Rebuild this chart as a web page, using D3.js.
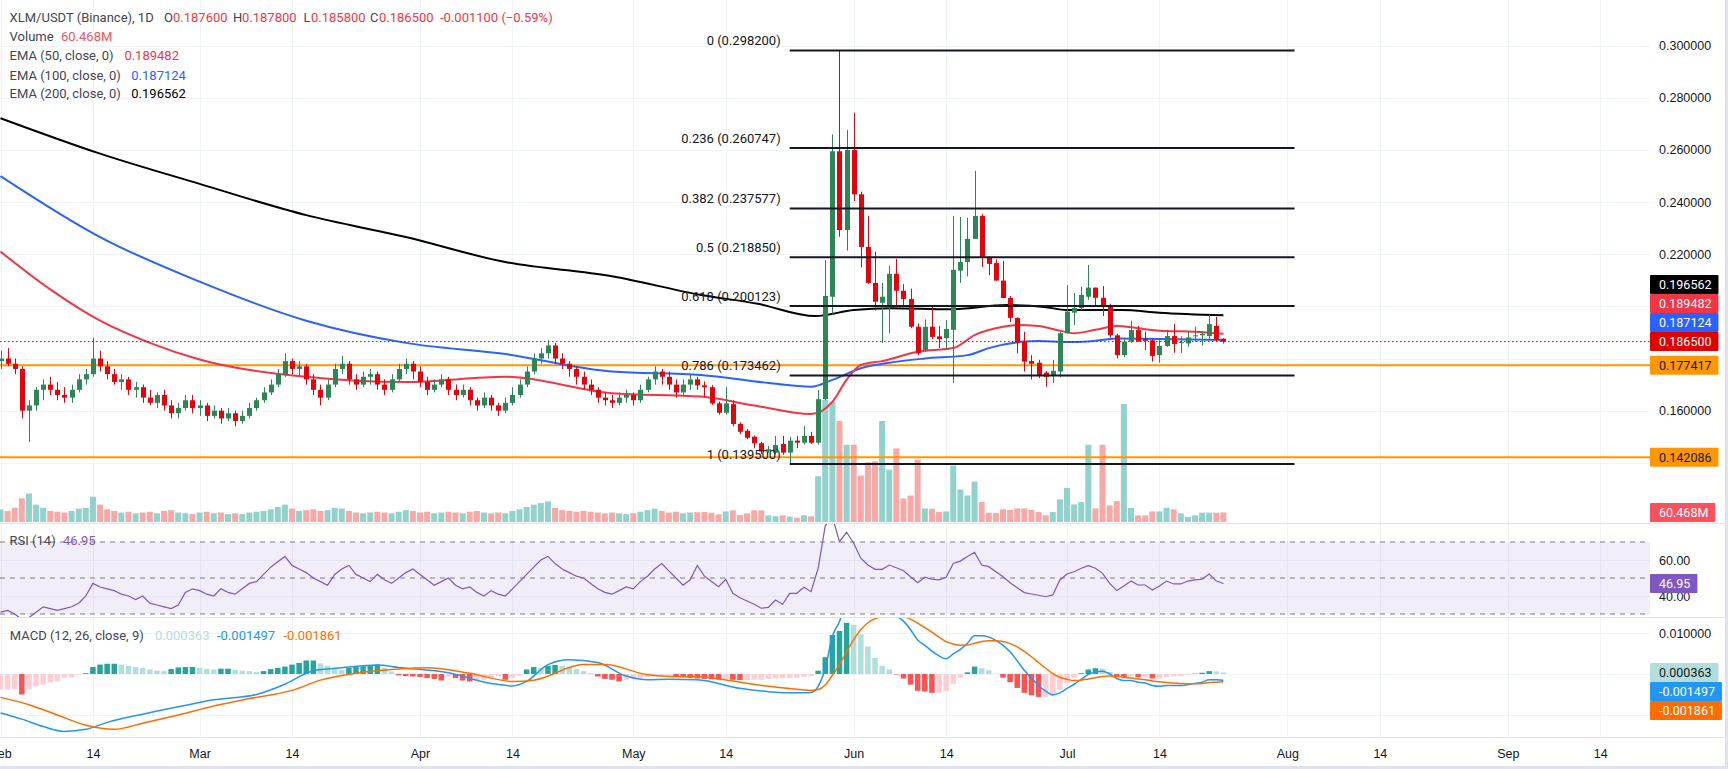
<!DOCTYPE html>
<html>
<head>
<meta charset="utf-8">
<script src="https://cdn.jsdelivr.net/npm/d3@7.9.0/dist/d3.min.js"></script>
<style>
  body { margin: 0; background: #fff; }
  svg { display: block; font-family: Roboto, "Liberation Sans", sans-serif; }
</style>
</head>
<body>
<svg id="chart" width="1728" height="769"></svg>
<script>
// daily candles from 1 Feb, [open, high, low, close]
const candles = [
  [0.1790,0.1830,0.1760,0.1800],[0.1800,0.1840,0.1770,0.1780],[0.1780,0.1800,0.1740,0.1760],[0.1760,0.1770,0.1570,0.1600],
  [0.1600,0.1640,0.1480,0.1620],[0.1620,0.1690,0.1600,0.1680],[0.1680,0.1720,0.1640,0.1700],[0.1700,0.1730,0.1660,0.1680],
  [0.1680,0.1710,0.1640,0.1660],[0.1660,0.1690,0.1630,0.1650],[0.1650,0.1700,0.1630,0.1680],[0.1680,0.1740,0.1670,0.1720],
  [0.1720,0.1760,0.1700,0.1740],[0.1740,0.1880,0.1730,0.1800],[0.1800,0.1830,0.1750,0.1770],[0.1770,0.1790,0.1720,0.1740],
  [0.1740,0.1760,0.1700,0.1710],[0.1710,0.1740,0.1680,0.1720],[0.1720,0.1730,0.1660,0.1680],[0.1680,0.1710,0.1650,0.1690],
  [0.1690,0.1700,0.1630,0.1650],[0.1650,0.1680,0.1620,0.1630],[0.1630,0.1670,0.1610,0.1660],[0.1660,0.1680,0.1600,0.1620],
  [0.1620,0.1640,0.1570,0.1590],[0.1590,0.1630,0.1570,0.1610],[0.1610,0.1660,0.1600,0.1640],[0.1640,0.1660,0.1590,0.1610],
  [0.1610,0.1640,0.1580,0.1620],[0.1620,0.1630,0.1560,0.1580],[0.1580,0.1620,0.1570,0.1600],[0.1600,0.1610,0.1550,0.1570],
  [0.1570,0.1610,0.1560,0.1590],[0.1590,0.1600,0.1540,0.1560],[0.1560,0.1600,0.1550,0.1580],[0.1580,0.1630,0.1570,0.1610],
  [0.1610,0.1650,0.1600,0.1640],[0.1640,0.1690,0.1630,0.1670],[0.1670,0.1720,0.1660,0.1700],[0.1700,0.1760,0.1690,0.1740],
  [0.1740,0.1820,0.1730,0.1790],[0.1790,0.1800,0.1740,0.1760],[0.1760,0.1790,0.1730,0.1770],[0.1770,0.1780,0.1700,0.1720],
  [0.1720,0.1740,0.1660,0.1680],[0.1680,0.1700,0.1620,0.1650],[0.1650,0.1720,0.1640,0.1700],[0.1700,0.1780,0.1690,0.1760],
  [0.1760,0.1810,0.1740,0.1780],[0.1780,0.1790,0.1700,0.1720],[0.1720,0.1740,0.1680,0.1700],[0.1700,0.1750,0.1690,0.1730],
  [0.1730,0.1760,0.1700,0.1740],[0.1740,0.1750,0.1680,0.1700],[0.1700,0.1720,0.1660,0.1680],[0.1680,0.1740,0.1670,0.1720],
  [0.1720,0.1780,0.1710,0.1760],[0.1760,0.1800,0.1740,0.1780],[0.1780,0.1790,0.1720,0.1750],[0.1750,0.1770,0.1690,0.1710],
  [0.1710,0.1730,0.1660,0.1680],[0.1680,0.1720,0.1670,0.1700],[0.1700,0.1740,0.1690,0.1720],[0.1720,0.1730,0.1660,0.1680],
  [0.1680,0.1700,0.1640,0.1660],[0.1660,0.1700,0.1650,0.1680],[0.1680,0.1690,0.1620,0.1640],[0.1640,0.1650,0.1600,0.1620],
  [0.1620,0.1670,0.1610,0.1650],[0.1650,0.1660,0.1600,0.1620],[0.1620,0.1630,0.1580,0.1600],[0.1600,0.1650,0.1590,0.1630],
  [0.1630,0.1690,0.1620,0.1660],[0.1660,0.1720,0.1650,0.1700],[0.1700,0.1770,0.1690,0.1750],[0.1750,0.1820,0.1740,0.1800],
  [0.1800,0.1840,0.1780,0.1820],[0.1820,0.1870,0.1800,0.1850],[0.1850,0.1860,0.1780,0.1800],[0.1800,0.1820,0.1760,0.1780],
  [0.1780,0.1790,0.1730,0.1760],[0.1760,0.1770,0.1700,0.1730],[0.1730,0.1750,0.1680,0.1700],[0.1700,0.1720,0.1660,0.1680],
  [0.1680,0.1690,0.1630,0.1650],[0.1650,0.1670,0.1620,0.1640],[0.1640,0.1660,0.1610,0.1630],[0.1630,0.1670,0.1620,0.1650],
  [0.1650,0.1680,0.1630,0.1660],[0.1660,0.1670,0.1620,0.1640],[0.1640,0.1700,0.1630,0.1680],[0.1680,0.1730,0.1670,0.1720],
  [0.1720,0.1770,0.1700,0.1750],[0.1750,0.1760,0.1700,0.1730],[0.1730,0.1750,0.1680,0.1700],[0.1700,0.1720,0.1650,0.1670],
  [0.1670,0.1720,0.1660,0.1700],[0.1700,0.1740,0.1680,0.1720],[0.1720,0.1730,0.1680,0.1697],
  [0.1697,0.1712,0.1654,0.1690],[0.1690,0.1698,0.1622,0.1628],[0.1628,0.1635,0.1585,0.1592],[0.1592,0.1690,0.1585,0.1628],
  [0.1625,0.1640,0.1540,0.1549],[0.1549,0.1555,0.1510,0.1519],[0.1523,0.1530,0.1490,0.1496],[0.1500,0.1505,0.1456,0.1475],
  [0.1475,0.1480,0.1434,0.1443],[0.1446,0.1465,0.1438,0.1452],[0.1439,0.1503,0.1432,0.1468],[0.1472,0.1503,0.1431,0.1439],
  [0.1439,0.1500,0.1398,0.1485],[0.1485,0.1503,0.1456,0.1477],[0.1477,0.1541,0.1470,0.1503],[0.1503,0.1519,0.1472,0.1477],
  [0.1477,0.1679,0.1470,0.1644],[0.1644,0.2178,0.1640,0.2040],[0.2037,0.2660,0.1970,0.2595],[0.2595,0.2982,0.2267,0.2293],
  [0.2293,0.2677,0.2214,0.2600],[0.2600,0.2743,0.2404,0.2430],[0.2430,0.2440,0.2150,0.2228],[0.2228,0.2347,0.2085,0.2090],
  [0.2090,0.2210,0.1984,0.2018],[0.2014,0.2090,0.1860,0.2037],[0.1999,0.2155,0.1897,0.2125],[0.2125,0.2182,0.1999,0.2060],
  [0.2060,0.2085,0.1999,0.2028],[0.2028,0.2068,0.1917,0.1922],[0.1922,0.1935,0.1813,0.1820],[0.1833,0.1950,0.1825,0.1922],
  [0.1922,0.2002,0.1875,0.1883],[0.1885,0.1925,0.1840,0.1874],[0.1878,0.1947,0.1833,0.1913],[0.1910,0.2347,0.1706,0.2140],
  [0.2137,0.2343,0.2090,0.2170],[0.2170,0.2340,0.2115,0.2259],[0.2259,0.2520,0.2259,0.2347],[0.2347,0.2355,0.2151,0.2186],
  [0.2186,0.2193,0.2120,0.2163],[0.2166,0.2180,0.2099,0.2099],[0.2099,0.2174,0.2032,0.2032],[0.2032,0.2040,0.1940,0.1956],
  [0.1956,0.1958,0.1820,0.1860],[0.1865,0.1903,0.1750,0.1788],[0.1790,0.1813,0.1720,0.1780],[0.1784,0.1795,0.1725,0.1737],
  [0.1746,0.1752,0.1692,0.1730],[0.1733,0.1794,0.1706,0.1753],[0.1750,0.1905,0.1728,0.1897],[0.1897,0.2082,0.1895,0.1980],
  [0.1976,0.2051,0.1929,0.1994],[0.1994,0.2075,0.1985,0.2044],[0.2037,0.2159,0.2025,0.2072],[0.2072,0.2072,0.2005,0.2033],
  [0.2033,0.2078,0.1963,0.2001],[0.2002,0.2010,0.1880,0.1889],[0.1889,0.1895,0.1800,0.1813],[0.1813,0.1880,0.1805,0.1865],
  [0.1865,0.1945,0.1860,0.1909],[0.1909,0.1925,0.1865,0.1865],[0.1875,0.1903,0.1833,0.1868],[0.1870,0.1875,0.1788,0.1810],
  [0.1813,0.1871,0.1784,0.1848],[0.1848,0.1910,0.1845,0.1886],[0.1886,0.1932,0.1822,0.1856],[0.1860,0.1885,0.1822,0.1863],
  [0.1858,0.1905,0.1845,0.1881],[0.1886,0.1922,0.1865,0.1889],[0.1889,0.1905,0.1850,0.1895],[0.1886,0.1967,0.1876,0.1932],
  [0.1925,0.1960,0.1865,0.1874],[0.1876,0.1878,0.1858,0.1865]
];

// volume, millions
const volumes = [
  80,70,90,150,180,110,90,70,65,60, 70,85,90,160,110,80,70,60,65,55,
  60,65,55,70,75,60,55,50,60,65, 55,60,50,55,50,60,65,70,80,95,
  110,85,70,75,80,70,75,90,85,70, 60,55,60,65,60,55,65,75,70,60,
  65,55,60,65,60,55,65,70,60,55, 60,55,70,80,95,110,120,130,90,75,
  70,65,70,65,60,55,60,55,50,55, 65,75,85,70,60,65,55,60,62,
  63,59,48,67,74,44,55,74,74,42, 36,42,34,27,42,36,290,773,762,640,
  489,489,294,378,384,640,332,466,149,168, 395,86,84,63,67,357,206,168,256,126,
  59,57,80,76,86,86,76,63,42,63, 143,216,111,126,489,86,489,105,132,748,
  90,42,42,67,67,90,80,55,32,42, 59,59,59,60.468
];

const rsiValues = [
  31,32,30,27,28,31,34,33,32,33, 34,36,40,47,45,44,43,41,40,38,
  40,36,35,34,33,35,42,44,43,41, 40,44,42,41,44,47,48,52,56,59,
  62,57,55,53,50,48,46,52,55,57, 52,50,48,52,49,47,50,53,55,52,
  49,46,48,50,46,44,45,42,40,43, 41,40,44,48,52,56,60,62,58,55,
  53,51,50,47,44,42,41,43,45,44, 48,51,55,58,54,50,46,49,57,
  51,48,45.2,49.3,41.5,39,37.2,35.4,33.2,33.7, 37.8,35.4,41.5,41.5,44.8,42.4,55.4,79,84,70.2,
  75.4,69.3,61,57.2,54.8,54.8,57.2,55.7,54,50.7, 47.4,50.4,49.3,49,50.4,58.1,59.4,61.9,64.3,57.2,
  56.3,53.5,50.7,47.4,44.6,41.9,41.1,40.4,39.6,40.6, 48.9,52.2,53.5,55.4,56.8,55.4,52.6,47,43,45.6,
  48.3,46.1,46.1,43.3,45.6,48.3,46.7,46.7,48.3,49, 49.3,52.2,48.3,46.95
];

const macdHist = [
  -0.0038,-0.0038,-0.0037,-0.0050,-0.0037,-0.0030,-0.0026,-0.0020,-0.0018,-0.0010,
  -0.0008,-0.0002,0.0002,0.0017,0.0023,0.0025,0.0025,0.0023,0.0020,0.0017,
  0.0015,0.0011,0.0008,0.0007,0.0012,0.0016,0.0017,0.0017,0.0015,0.0013,
  0.0011,0.0013,0.0013,0.0010,0.0008,0.0007,0.0005,0.0007,0.0012,0.0015,
  0.0018,0.0023,0.0027,0.0033,0.0033,0.0026,0.0020,0.0015,0.0010,0.0015,
  0.0017,0.0019,0.0022,0.0023,0.0015,0.0006,-0.0003,-0.0005,-0.0006,-0.0007,
  -0.0010,-0.0012,-0.0016,-0.0006,-0.0010,-0.0016,-0.0018,-0.0016,-0.0014,-0.0010,
  -0.0005,-0.0014,-0.0010,-0.0004,0.0011,0.0017,0.0015,0.0020,0.0022,0.0020,
  0.0017,0.0012,0.0007,0.0002,-0.0006,-0.0012,-0.0014,-0.0018,-0.0014,-0.0010,
  -0.0010,-0.0008,-0.0006,-0.0004,-0.0004,-0.0006,-0.0008,-0.0010,-0.0011,-0.0012,
  -0.0013,-0.0014,-0.0012,-0.0014,-0.0015,-0.0015,-0.0014,-0.0014,-0.0012,-0.0011,
  -0.0010,-0.0010,-0.0009,-0.0007,-0.0005,0.0008,0.0041,0.0095,0.0105,0.0125,
  0.0120,0.0097,0.0067,0.0039,0.0020,0.0011,-0.0001,-0.0011,-0.0026,-0.0041,
  -0.0043,-0.0046,-0.0046,-0.0042,-0.0024,-0.0010,0.0004,0.0018,0.0014,0.0009,
  0.0001,-0.0009,-0.0020,-0.0034,-0.0046,-0.0052,-0.0056,-0.0056,-0.0052,-0.0038,
  -0.0022,-0.0009,0.0002,0.0011,0.0014,0.0013,0.0005,-0.0005,-0.0008,-0.0006,
  -0.0008,-0.0008,-0.0011,-0.0011,-0.0007,-0.0006,-0.0005,-0.0002,0.0001,0.0003,
  0.0007,0.0006,0.000363
];

// [day index, value]
const macdLine = [[0,-0.0095],[3,-0.0110],[6,-0.0128],[9,-0.0140],[12,-0.0135],[15,-0.0118],[20,-0.0098],[25,-0.0080],
  [30,-0.0063],[36,-0.0050],[40,-0.0025],[44,0.0008],[48,0.0015],[53,0.0022],[56,0.0016],[63,0.0003],[69,-0.0023],
  [72,-0.0029],[74,-0.0018],[77,0.0023],[80,0.0035],[84,0.0028],[88,-0.0005],[91,-0.0014],[94,-0.0013],[98,-0.0014],
  [104,-0.0035],[108,-0.0043],[112,-0.0046],[113,-0.0046],[114,-0.0045],[115,-0.0030],[116,0.0014],[117,0.0092],
  [118,0.0128],[119,0.0179],[120,0.0204],[121,0.0205],[122,0.0192],[123,0.0174],[124,0.0160],[125,0.0154],[126,0.0142],
  [127,0.0129],[128,0.0108],[129,0.0083],[130,0.0070],[131,0.0056],[132,0.0044],[133,0.0037],[134,0.0049],[135,0.0060],
  [136,0.0075],[137,0.0093],[138,0.0093],[139,0.0090],[140,0.0082],[141,0.0070],[142,0.0054],[143,0.0032],[144,0.0009],
  [145,-0.0010],[146,-0.0028],[147,-0.0042],[148,-0.0051],[149,-0.0046],[150,-0.0035],[151,-0.0025],[152,-0.0013],
  [153,-0.0001],[154,0.0005],[155,0.0007],[156,0.0000],[157,-0.0011],[158,-0.0016],[159,-0.0016],[160,-0.0020],
  [161,-0.0022],[162,-0.0028],[163,-0.0030],[164,-0.0028],[165,-0.0028],[166,-0.0028],[167,-0.0026],[168,-0.0023],
  [169,-0.0020],[170,-0.0014],[171,-0.0014],[172,-0.001497]];
const signalLine = [[0,-0.0057],[4,-0.0075],[8,-0.0100],[12,-0.0125],[16,-0.0135],[20,-0.0120],[25,-0.0100],[30,-0.0078],
  [35,-0.0060],[41,-0.0040],[45,-0.0015],[50,0.0002],[56,0.0012],[60,0.0015],[66,0.0002],[72,-0.0018],[75,-0.0015],
  [82,0.0023],[85,0.0023],[91,-0.0002],[94,-0.0006],[98,-0.0007],[104,-0.0020],[108,-0.0030],[112,-0.0037],
  [113,-0.0039],[114,-0.0040],[115,-0.0038],[116,-0.0027],[117,-0.0003],[118,0.0023],[119,0.0054],[120,0.0084],
  [121,0.0108],[122,0.0125],[123,0.0135],[124,0.0140],[125,0.0143],[126,0.0143],[127,0.0140],[128,0.0134],[129,0.0124],
  [130,0.0113],[131,0.0102],[132,0.0090],[133,0.0079],[134,0.0073],[135,0.0070],[136,0.0071],[137,0.0075],[138,0.0079],
  [139,0.0081],[140,0.0081],[141,0.0079],[142,0.0074],[143,0.0066],[144,0.0055],[145,0.0042],[146,0.0028],[147,0.0014],
  [148,0.0001],[149,-0.0008],[150,-0.0013],[151,-0.0016],[152,-0.0015],[153,-0.0012],[154,-0.0009],[155,-0.0006],
  [156,-0.0005],[157,-0.0006],[158,-0.0008],[159,-0.0010],[160,-0.0012],[161,-0.0014],[162,-0.0017],[163,-0.0019],
  [164,-0.0021],[165,-0.0022],[166,-0.0023],[167,-0.0024],[168,-0.0024],[169,-0.0023],[170,-0.0021],[171,-0.0020],
  [172,-0.001861]];

const ema50 = [[0,0.2210],[7,0.2065],[14,0.1945],[21,0.1860],[28,0.1796],[43,0.1730],[57,0.1710],[71,0.1730],[86,0.1667],
  [98.5,0.1654],[106,0.1620],[114,0.1587],[117,0.1634],[119,0.1718],[121,0.1775],[124,0.1790],[129,0.1826],[134,0.1840],
  [137,0.1890],[141,0.1922],[143,0.1929],[146,0.1925],[149,0.1907],[151,0.1897],[154,0.1910],[157,0.1925],[160,0.1916],
  [163,0.1907],[168,0.1903],[172,0.189482]];
const ema100 = [[0,0.2500],[14,0.2266],[28,0.2095],[43,0.1945],[57,0.1860],[71,0.1817],[86,0.1750],[98.5,0.1737],
  [108,0.1706],[114,0.1692],[117,0.1718],[121,0.1763],[125,0.1784],[130,0.1800],[136,0.1813],[139,0.1840],[144,0.1865],
  [146,0.1867],[150,0.1863],[153,0.1865],[157,0.1877],[163,0.1875],[172,0.187124]];
const ema200 = [[0,0.2722],[14,0.2586],[28,0.2470],[43,0.2350],[57,0.2266],[71,0.2170],[86,0.2116],[98.5,0.2044],
  [106.5,0.2010],[114.6,0.1963],[120,0.1986],[125.3,0.1993],[133.5,0.1989],[141.5,0.2005],[146.8,0.1998],[150,0.1986],
  [157.7,0.1986],[163,0.1976],[172,0.196562]];

const fibLevels = [["0",0.2982],["0.236",0.260747],["0.382",0.237577],["0.5",0.21885],["0.618",0.200123],["0.786",0.173462],["1",0.1395]];
const fibStartDay = 111, fibEndDay = 182;
const supportLines = [0.177417, 0.142086];
const priceTicks = [0.14,0.16,0.18,0.20,0.22,0.24,0.26,0.28,0.30];
const priceLabels = [0.16,0.22,0.24,0.26,0.28,0.30];   // the rest sit under the scale badges
const rsiTicks = [40, 60];
const macdTicks = [-0.01, 0, 0.01];
const macdLabels = [0.01];
const tickDates = ["2023-02-01","2023-02-14","2023-03-01","2023-03-14","2023-04-01","2023-04-14","2023-05-01","2023-05-14",
  "2023-06-01","2023-06-14","2023-07-01","2023-07-14","2023-08-01","2023-08-14","2023-09-01","2023-09-14"];

const DAY = 864e5;
const t0 = Date.UTC(2023, 1, 1);
const dayDate = i => new Date(t0 + i * DAY);

const svg = d3.select('#chart');
const plotRight = 1650;

const x = d3.scaleUtc().domain([dayDate(0), dayDate(100)]).range([0.5, 711.5]);
const yPrice = d3.scaleLinear().domain([0.14, 0.30]).range([462.8, 45.7]);
const yVol = d3.scaleLinear().domain([0, 800]).range([522, 395.7]);
const yRsi = d3.scaleLinear().domain([30, 70]).range([614, 542]);
const yMacd = d3.scaleLinear().domain([-0.01, 0.01]).range([715, 633]);

const panes = { price: [0, 523], rsi: [524, 617], macd: [618, 737] };
const defs = svg.append('defs');
Object.entries(panes).forEach(([k, [t, b]]) => {
  defs.append('clipPath').attr('id', 'clip-' + k)
    .append('rect').attr('x', 0).attr('y', t).attr('width', plotRight).attr('height', b - t);
});

svg.append('rect').attr('width', 1728).attr('height', 769).attr('fill', '#fff');

// grid
const grid = svg.append('g').attr('stroke', '#f0f3fa').attr('stroke-width', 1);
tickDates.forEach(s => {
  const xx = Math.round(x(new Date(s))) + 0.5;
  grid.append('line').attr('x1', xx).attr('x2', xx).attr('y1', 0).attr('y2', 737);
});
priceTicks.forEach(p => grid.append('line').attr('x1', 0).attr('x2', plotRight)
  .attr('y1', Math.round(yPrice(p)) + 0.5).attr('y2', Math.round(yPrice(p)) + 0.5));
rsiTicks.forEach(p => grid.append('line').attr('x1', 0).attr('x2', plotRight)
  .attr('y1', Math.round(yRsi(p)) + 0.5).attr('y2', Math.round(yRsi(p)) + 0.5));
macdTicks.forEach(p => grid.append('line').attr('x1', 0).attr('x2', plotRight)
  .attr('y1', Math.round(yMacd(p)) + 0.5).attr('y2', Math.round(yMacd(p)) + 0.5));

// pane separators
[523.5, 617.5, 737.5].forEach(y => svg.append('line').attr('x1', 0).attr('x2', 1728)
  .attr('y1', y).attr('y2', y).attr('stroke', '#e0e3eb'));

// ---- price pane
const pg = svg.append('g').attr('clip-path', 'url(#clip-price)');

const isUp = d => d[3] >= d[0];
pg.append('g').selectAll('rect').data(volumes).join('rect')
  .attr('x', (d, i) => x(dayDate(i)) - 3)
  .attr('width', 6)
  .attr('y', d => yVol(d))
  .attr('height', d => yVol(0) - yVol(d))
  .attr('fill', (d, i) => isUp(candles[i]) ? '#92d2cc' : '#f7a9a7');

// horizontal levels
supportLines.forEach(p => pg.append('line').attr('x1', 0).attr('x2', plotRight)
  .attr('y1', yPrice(p)).attr('y2', yPrice(p)).attr('stroke', '#ff9800').attr('stroke-width', 2));

const emaLine = d3.line().x(d => x(dayDate(d[0]))).y(d => yPrice(d[1])).curve(d3.curveMonotoneX);
[[ema200, '#000000'], [ema100, '#2962ff'], [ema50, '#f23645']].forEach(([data, c]) => {
  pg.append('path').attr('d', emaLine(data)).attr('fill', 'none').attr('stroke', c).attr('stroke-width', 2);
});

// candles
const cg = pg.append('g');
candles.forEach((d, i) => {
  const cx = Math.round(x(dayDate(i)));
  const col = isUp(d) ? '#2e8555' : '#e8000b';
  cg.append('line').attr('x1', cx + 0.5).attr('x2', cx + 0.5)
    .attr('y1', yPrice(d[1])).attr('y2', yPrice(d[2])).attr('stroke', col);
  const top = yPrice(Math.max(d[0], d[3])), bot = yPrice(Math.min(d[0], d[3]));
  cg.append('rect').attr('x', cx - 2).attr('width', 5).attr('y', top)
    .attr('height', Math.max(1, bot - top)).attr('fill', col);
});

// fib retracement
const fx0 = x(dayDate(fibStartDay)), fx1 = x(dayDate(fibEndDay));
fibLevels.forEach(([lvl, p]) => {
  pg.append('line').attr('x1', fx0).attr('x2', fx1).attr('y1', yPrice(p)).attr('y2', yPrice(p))
    .attr('stroke', '#131722').attr('stroke-width', 2);
  pg.append('text').attr('x', fx0 - 9).attr('y', yPrice(p) - 10).attr('dy', '0.35em')
    .attr('text-anchor', 'end').attr('font-size', 13).attr('fill', '#131722')
    .text(`${lvl} (${p.toFixed(6)})`);
});

// last price line
const last = candles[candles.length - 1];
pg.append('line').attr('x1', 0).attr('x2', plotRight).attr('y1', yPrice(last[3])).attr('y2', yPrice(last[3]))
  .attr('stroke', '#e00000').attr('stroke-dasharray', '1.5,2.5');

// ---- RSI pane
const rg = svg.append('g').attr('clip-path', 'url(#clip-rsi)');
rg.append('rect').attr('x', 0).attr('width', plotRight).attr('y', yRsi(70)).attr('height', yRsi(30) - yRsi(70))
  .attr('fill', 'rgba(126,87,194,0.1)');
[70, 50, 30].forEach(v => rg.append('line').attr('x1', 0).attr('x2', plotRight)
  .attr('y1', yRsi(v)).attr('y2', yRsi(v)).attr('stroke', '#787b86').attr('stroke-dasharray', '5,5'));
rg.append('path')
  .attr('d', d3.line().x((d, i) => x(dayDate(i))).y(d => yRsi(d))(rsiValues))
  .attr('fill', 'none').attr('stroke', '#7e57c2').attr('stroke-width', 1.2);

// ---- MACD pane
const mg = svg.append('g').attr('clip-path', 'url(#clip-macd)');
mg.append('g').selectAll('rect').data(macdHist).join('rect')
  .attr('x', (d, i) => x(dayDate(i)) - 2.75)
  .attr('width', 5.5)
  .attr('y', d => Math.min(yMacd(d), yMacd(0)))
  .attr('height', d => Math.abs(yMacd(d) - yMacd(0)))
  .attr('fill', (d, i) => {
    const prev = i > 0 ? macdHist[i - 1] : d;
    if (d >= 0) return d >= prev ? '#26a69a' : '#b2dfdb';
    return d < prev ? '#ff5252' : '#ffcdd2';
  });
const macdPath = d3.line().x(d => x(dayDate(d[0]))).y(d => yMacd(d[1])).curve(d3.curveMonotoneX);
mg.append('path').attr('d', macdPath(macdLine)).attr('fill', 'none').attr('stroke', '#2196f3').attr('stroke-width', 1.5);
mg.append('path').attr('d', macdPath(signalLine)).attr('fill', 'none').attr('stroke', '#ff6d00').attr('stroke-width', 1.5);

// ---- time axis
const xAxis = d3.axisBottom(x)
  .tickValues(tickDates.map(s => new Date(s)))
  .tickSize(0).tickPadding(12)
  .tickFormat(d => d.getUTCDate() === 1 ? d3.utcFormat('%b')(d) : '14');
const xg = svg.append('g').attr('transform', 'translate(0,737)').call(xAxis);
xg.select('.domain').remove();
xg.selectAll('text').attr('font-size', 12.5).attr('fill', '#131722').attr('font-family', null);

// ---- right scales
function rightAxis(scale, values, fmt) {
  const g = svg.append('g').attr('transform', `translate(${plotRight},0)`)
    .call(d3.axisRight(scale).tickValues(values).tickSize(0).tickPadding(9).tickFormat(fmt));
  g.select('.domain').remove();
  g.selectAll('text').attr('font-size', 12.5).attr('fill', '#131722').attr('font-family', null);
}
rightAxis(yPrice, priceLabels, d3.format('.6f'));
rightAxis(yRsi, rsiTicks, d3.format('.2f'));
rightAxis(yMacd, macdLabels, d3.format('.6f'));

// ---- badges on the scale
function badges(list, dir) {
  // dir -1 stacks upward from the lowest, +1 stacks downward from the highest
  const h = 19;
  const items = list.map(b => ({ ...b, cy: b.y }));
  if (dir < 0) {
    items.sort((a, b) => b.cy - a.cy);
    for (let i = 1; i < items.length; i++) items[i].cy = Math.min(items[i].cy, items[i - 1].cy - h);
  } else {
    items.sort((a, b) => a.cy - b.cy);
    for (let i = 1; i < items.length; i++) items[i].cy = Math.max(items[i].cy, items[i - 1].cy + h);
  }
  items.forEach(b => {
    const g = svg.append('g');
    const t = g.append('text').attr('x', plotRight + 9).attr('y', b.cy).attr('dy', '0.35em')
      .attr('font-size', 12.5).attr('fill', b.fg).text(b.text);
    const w = t.node().getComputedTextLength();
    g.insert('rect', 'text').attr('x', plotRight).attr('y', b.cy - h / 2).attr('width', w + 16)
      .attr('height', h).attr('rx', 1).attr('fill', b.bg);
  });
}
badges([
  { y: yPrice(0.196562), text: '0.196562', bg: '#000000', fg: '#fff' },
  { y: yPrice(0.189482), text: '0.189482', bg: '#f23645', fg: '#fff' },
  { y: yPrice(0.187124), text: '0.187124', bg: '#2962ff', fg: '#fff' },
  { y: yPrice(last[3]), text: '0.186500', bg: '#e00000', fg: '#fff' }
], -1);
badges([{ y: yPrice(0.177417), text: '0.177417', bg: '#ff9800', fg: '#131722' }], -1);
badges([{ y: yPrice(0.142086), text: '0.142086', bg: '#ff9800', fg: '#131722' }], -1);
badges([{ y: yVol(volumes[volumes.length - 1]), text: '60.468M', bg: '#f7525f', fg: '#fff' }], -1);
badges([{ y: yRsi(rsiValues[rsiValues.length - 1]), text: '46.95', bg: '#7e57c2', fg: '#fff' }], -1);
badges([
  { y: yMacd(macdHist[macdHist.length - 1]), text: '0.000363', bg: '#b2dfdb', fg: '#131722' },
  { y: yMacd(-0.001497), text: '-0.001497', bg: '#2196f3', fg: '#fff' },
  { y: yMacd(-0.001861), text: '-0.001861', bg: '#ff6d00', fg: '#fff' }
], 1);

// ---- legends
function legend(y, parts) {
  const t = svg.append('text').attr('y', y).attr('dy', '0.35em').attr('font-size', 13);
  parts.forEach(([xx, s, c]) => t.append('tspan').attr('x', xx).attr('fill', c).text(s));
}
const red = '#f23645';
legend(17, [[9.6, 'XLM/USDT (Binance), 1D', '#434651'], [164, 'O', '#434651'], [173, '0.187600', red],
  [233, 'H', '#434651'], [242, '0.187800', red], [303.5, 'L', '#434651'], [311, '0.185800', red],
  [370, 'C', '#434651'], [379, '0.186500', red], [440, '-0.001100 (\u22120.59%)', red]]);
legend(36, [[9.6, 'Volume', '#434651'], [61, '60.468M', '#f7525f']]);
legend(55, [[9.6, 'EMA (50, close, 0)', '#434651'], [124.4, '0.189482', red]]);
legend(75, [[9.6, 'EMA (100, close, 0)', '#434651'], [131.3, '0.187124', '#2962ff']]);
legend(93, [[9.6, 'EMA (200, close, 0)', '#434651'], [131.3, '0.196562', '#000']]);
legend(540, [[9.6, 'RSI (14)', '#434651'], [63, '46.95', '#7e57c2']]);
legend(635, [[9.8, 'MACD (12, 26, close, 9)', '#434651'], [155, '0.000363', '#b2dfdb'],
  [217, '-0.001497', '#2196f3'], [283.5, '-0.001861', '#ff6d00']]);

// frame
svg.append('rect').attr('x', 1725).attr('y', 0).attr('width', 3).attr('height', 769).attr('fill', '#e0e3eb');
svg.append('rect').attr('x', 0).attr('y', 766).attr('width', 1728).attr('height', 3).attr('fill', '#e0e3eb');
</script>
</body>
</html>
